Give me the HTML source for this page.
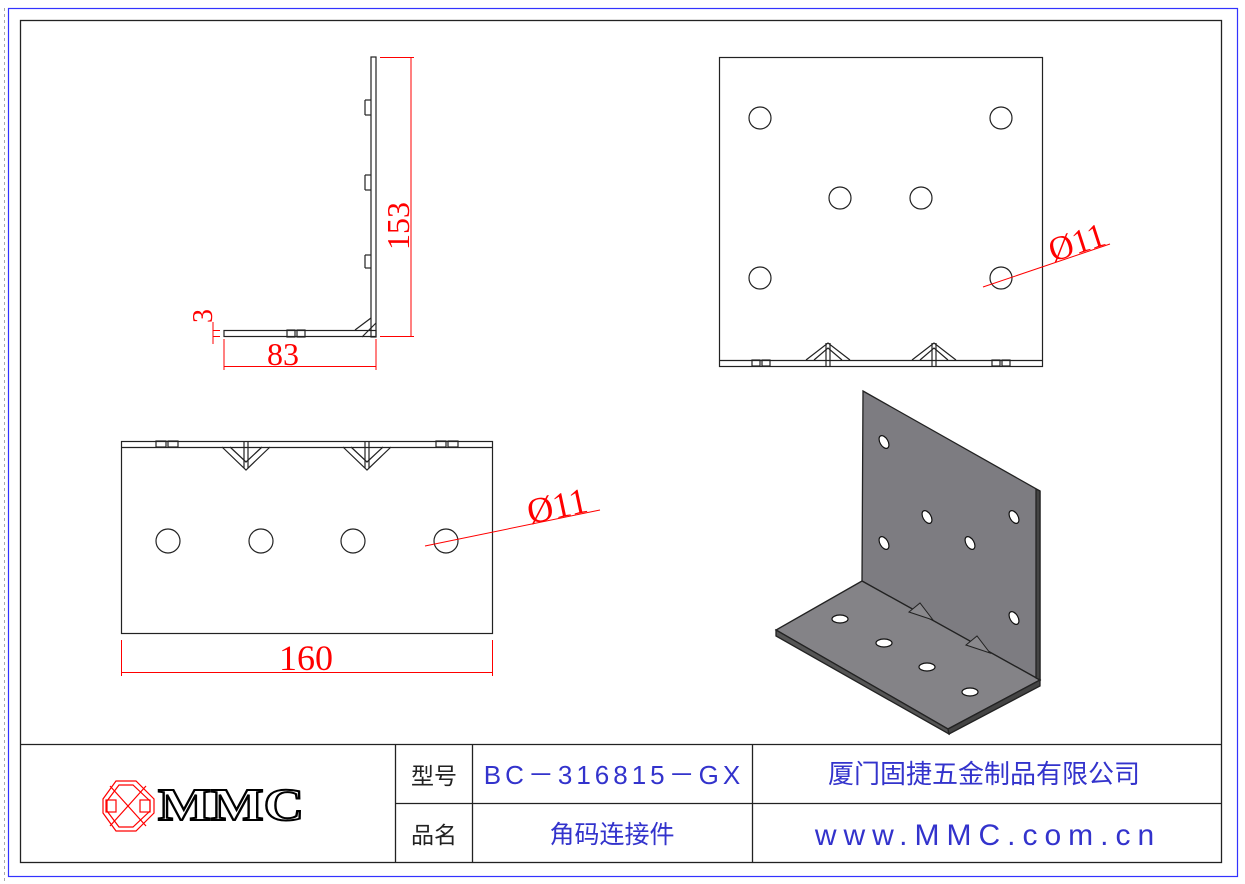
<!DOCTYPE html>
<html><head><meta charset="utf-8"><style>
html,body{margin:0;padding:0;background:#fff;}
svg{display:block;}
text{font-family:"Liberation Serif",serif;}
.cj{font-family:"Liberation Sans","Noto Sans CJK SC",sans-serif;}
</style></head><body>
<svg width="1245" height="884" viewBox="0 0 1245 884" xmlns="http://www.w3.org/2000/svg">
<rect x="0" y="0" width="1245" height="884" fill="#fff"/>
<line x1="4.5" y1="8" x2="4.5" y2="884" stroke="#aaa" stroke-dasharray="3,3"/>
<rect x="8.5" y="8.5" width="1229" height="868" fill="none" stroke="#33f" stroke-width="1.2"/>
<rect x="20.5" y="20.5" width="1201" height="842" fill="none" stroke="#222" stroke-width="1.3"/>
<!-- title block -->
<g stroke="#222" stroke-width="1.3" fill="none">
<line x1="20" y1="744.5" x2="1222" y2="744.5"/>
<line x1="395.5" y1="744" x2="395.5" y2="862"/>
<line x1="472.5" y1="744" x2="472.5" y2="862"/>
<line x1="752.5" y1="744" x2="752.5" y2="862"/>
<line x1="395" y1="803.5" x2="1222" y2="803.5"/>
</g>
<text class="cj" x="434" y="784" font-size="23" text-anchor="middle" fill="#222">型号</text>
<text class="cj" x="434" y="843" font-size="23" text-anchor="middle" fill="#222">品名</text>
<text x="614" y="784" font-size="26" text-anchor="middle" fill="#33c" letter-spacing="4" style="font-family:'Liberation Sans',sans-serif">BC－316815－GX</text>
<text class="cj" x="612" y="843" font-size="25" text-anchor="middle" fill="#33c">角码连接件</text>
<text class="cj" x="984" y="783" font-size="26" text-anchor="middle" fill="#33c">厦门固捷五金制品有限公司</text>
<text x="988" y="845" font-size="30" text-anchor="middle" fill="#33c" letter-spacing="7" style="font-family:'Liberation Sans',sans-serif">www.MMC.com.cn</text>
<!-- logo -->
<g stroke="red" stroke-width="1.2" fill="none">
<polygon points="116,781 136,781 154,799 154,813 136,831 116,831 103,813 103,799"/>
<polygon points="119,785 133,785 150,801 150,811 133,827 119,827 107,811 107,801"/>
<line x1="110" y1="786" x2="146" y2="826"/><line x1="146" y1="786" x2="110" y2="826"/>
<rect x="106" y="800" width="10" height="12"/><rect x="140" y="800" width="10" height="12"/>
</g>
<text x="231" y="820" font-size="46" font-weight="bold" text-anchor="middle" fill="#fff" stroke="#000" stroke-width="2" textLength="146" lengthAdjust="spacingAndGlyphs">MMC</text>
<!-- top-left L view -->
<g stroke="#222" stroke-width="1.2" fill="none">
<rect x="224" y="330.5" width="152" height="6"/>
<rect x="371" y="57" width="5" height="280"/>
<rect x="287" y="330" width="8" height="7"/><rect x="297" y="330" width="8" height="7"/>
<line x1="355" y1="330" x2="371" y2="318"/><line x1="362" y1="337" x2="376" y2="323"/>
<line x1="365" y1="100" x2="371" y2="100"/><line x1="365" y1="115" x2="371" y2="115"/>
<line x1="365" y1="175" x2="371" y2="175"/><line x1="365" y1="190" x2="371" y2="190"/>
<line x1="365" y1="255" x2="371" y2="255"/><line x1="365" y1="268" x2="371" y2="268"/>
<line x1="365" y1="100" x2="365" y2="115"/><line x1="365" y1="175" x2="365" y2="190"/><line x1="365" y1="255" x2="365" y2="268"/>
</g>
<g stroke="red" stroke-width="1" fill="red">
<line x1="380" y1="57.5" x2="414" y2="57.5"/><line x1="380" y1="336.5" x2="414" y2="336.5"/>
<line x1="411" y1="57" x2="411" y2="337"/>
<line x1="224" y1="339" x2="224" y2="370"/><line x1="376" y1="339" x2="376" y2="370"/>
<line x1="224" y1="366.5" x2="376" y2="366.5"/>
<line x1="213" y1="330.5" x2="220" y2="330.5"/><line x1="213" y1="336.5" x2="220" y2="336.5"/>
<line x1="213" y1="322" x2="213" y2="344"/>
</g>
<text x="0" y="0" font-size="32" fill="red" text-anchor="middle" transform="translate(409,226) rotate(-90)">153</text>
<text x="283" y="365" font-size="32" fill="red" text-anchor="middle">83</text>
<text x="0" y="0" font-size="28" fill="red" text-anchor="middle" transform="translate(212,316) rotate(-90)">3</text>
<!-- top-right front view -->
<g stroke="#222" stroke-width="1.2" fill="none">
<rect x="719.5" y="57.5" width="323" height="309"/>
<line x1="719" y1="360.5" x2="1043" y2="360.5"/>
<circle cx="760" cy="118" r="11"/><circle cx="1001" cy="118" r="11"/>
<circle cx="840" cy="198" r="11"/><circle cx="921" cy="198" r="11"/>
<circle cx="760" cy="278" r="11"/><circle cx="1001" cy="278" r="11"/>
<polyline points="806,360 828,343 850,360"/><polyline points="814,360 828,348 842,360"/>
<line x1="826" y1="343" x2="826" y2="366"/><line x1="830" y1="343" x2="830" y2="366"/>
<polyline points="912,360 934,343 956,360"/><polyline points="920,360 934,348 948,360"/>
<line x1="932" y1="343" x2="932" y2="366"/><line x1="936" y1="343" x2="936" y2="366"/>
<rect x="752" y="360" width="8" height="6"/><rect x="762" y="360" width="8" height="6"/>
<rect x="992" y="360" width="8" height="6"/><rect x="1002" y="360" width="8" height="6"/>
</g>
<line x1="983" y1="287" x2="1110" y2="244" stroke="red" stroke-width="1"/>
<text x="0" y="0" font-size="34" fill="red" transform="translate(1053,262) rotate(-18)">Ø11</text>
<!-- bottom-left view -->
<g stroke="#222" stroke-width="1.2" fill="none">
<rect x="121.5" y="441.5" width="371" height="192"/>
<line x1="121" y1="447.5" x2="492" y2="447.5"/>
<circle cx="168" cy="541" r="12"/><circle cx="261" cy="541" r="12"/>
<circle cx="353" cy="541" r="12"/><circle cx="446" cy="541" r="12"/>
<polyline points="222,447 246,470 270,447"/><polyline points="230,447 246,462 262,447"/>
<line x1="244" y1="441" x2="244" y2="468"/><line x1="248" y1="441" x2="248" y2="468"/>
<polyline points="343,447 367,470 391,447"/><polyline points="351,447 367,462 383,447"/>
<line x1="365" y1="441" x2="365" y2="468"/><line x1="369" y1="441" x2="369" y2="468"/>
<rect x="156" y="441" width="10" height="6"/><rect x="168" y="441" width="10" height="6"/>
<rect x="436" y="441" width="10" height="6"/><rect x="448" y="441" width="10" height="6"/>
</g>
<g stroke="red" stroke-width="1">
<line x1="121.5" y1="640" x2="121.5" y2="676"/><line x1="492.5" y1="640" x2="492.5" y2="676"/>
<line x1="121" y1="672.5" x2="492" y2="672.5"/>
<line x1="425" y1="546" x2="600" y2="510"/>
</g>
<text x="306" y="670" font-size="36" fill="red" text-anchor="middle">160</text>
<text x="0" y="0" font-size="36" fill="red" transform="translate(530,524) rotate(-12)">Ø11</text>
<!-- isometric -->
<g stroke="#222" stroke-width="1.3">
<polygon points="863,391 1040,491 1040,680 862,581" fill="#7d7c81"/>
<polygon points="862,581 776,630 948,729 1040,680" fill="#848387"/>
<polygon points="776,630 948,729 949,734 776,636" fill="#555"/>
<polygon points="948,729 1040,680 1040,686 949,734" fill="#444"/>
<polygon points="1040,491 1036,489 1036,678 1040,680" fill="#444"/>
</g>
<g fill="#fff" stroke="#111" stroke-width="1.2">
<ellipse cx="884" cy="442" rx="4" ry="7" transform="rotate(-30 884 442)"/>
<ellipse cx="927" cy="517" rx="4" ry="7" transform="rotate(-30 927 517)"/>
<ellipse cx="1014" cy="517" rx="4" ry="7" transform="rotate(-30 1014 517)"/>
<ellipse cx="884" cy="543" rx="4" ry="7" transform="rotate(-30 884 543)"/>
<ellipse cx="970" cy="543" rx="4" ry="7" transform="rotate(-30 970 543)"/>
<ellipse cx="1014" cy="618" rx="4" ry="7" transform="rotate(-30 1014 618)"/>
<ellipse cx="840" cy="619" rx="8" ry="4"/>
<ellipse cx="884" cy="643" rx="8" ry="4"/>
<ellipse cx="927" cy="667" rx="8" ry="4"/>
<ellipse cx="970" cy="692" rx="8" ry="4"/>
</g>
<g stroke="#222" stroke-width="1" fill="#8a898d">
<polygon points="909,612 920,603 933,620"/>
<polygon points="966,645 977,636 990,653"/>
</g>
</svg>
</body></html>
